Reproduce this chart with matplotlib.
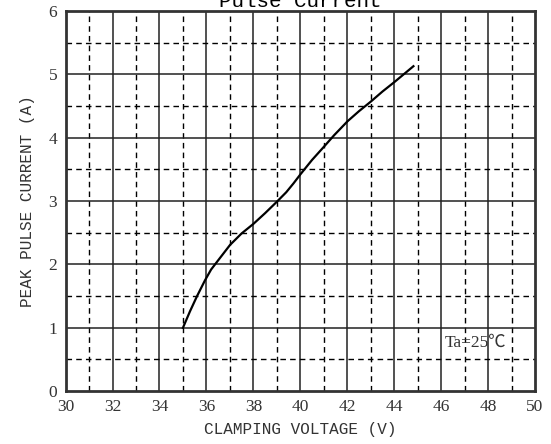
import numpy as np
import matplotlib.pyplot as plt

# Curve
voltage = [35.0, 35.3, 35.6, 35.94, 36.2, 36.51, 37.01, 37.5, 38.0, 38.5, 39.0, 39.4, 39.71, 40.02, 40.5, 41.01,
           41.44, 42.01, 42.5, 43.0, 43.5, 44.01, 44.82]
current = [1.0, 1.26, 1.5, 1.75, 1.92, 2.07, 2.31, 2.49, 2.64, 2.81, 2.99, 3.14, 3.28, 3.43, 3.65, 3.86,
           4.04, 4.26, 4.42, 4.57, 4.73, 4.88, 5.13]

x_ticks = list(range(30, 51, 2))
y_ticks = list(range(0, 7))

fig = plt.figure(figsize=(5.51, 4.44), dpi=100)
ax = fig.add_axes([0.119, 0.119, 0.852, 0.856])

# grid: solid majors, dashed minors
for x in range(31, 50, 2):
    ax.axvline(x, color='black', lw=1.0, ls=(0, (4, 3)), zorder=1)
for x in x_ticks[1:-1]:
    ax.axvline(x, color='#222222', lw=1.1, zorder=1)
for y in np.arange(0.5, 6, 1.0):
    ax.axhline(y, color='black', lw=1.0, ls=(0, (4, 3)), zorder=1)
for y in y_ticks[1:-1]:
    ax.axhline(y, color='#222222', lw=1.1, zorder=1)

ax.plot(voltage, current, color='black', lw=1.6, zorder=3)

ax.set_xlim(30, 50)
ax.set_ylim(0, 6)
ax.set_xticks(x_ticks)
ax.set_yticks(y_ticks)
ax.tick_params(length=0, pad=6)
for lab in ax.get_xticklabels() + ax.get_yticklabels():
    lab.set_fontfamily('Liberation Serif')
    lab.set_fontsize(12.5)
    lab.set_color('#333333')
for s in ax.spines.values():
    s.set_linewidth(2.0)
    s.set_color('#333333')

ax.set_xlabel('CLAMPING VOLTAGE (V)', family='Liberation Mono', fontsize=11.5, color='#333333', labelpad=5)
ax.set_ylabel('PEAK PULSE CURRENT (A)', family='Liberation Mono', fontsize=11.5, color='#333333', labelpad=10)
ax.set_title('Pulse Current', family='Liberation Mono', fontsize=15, pad=2)

ax.text(46.15, 0.77, 'Ta=25℃', family=['Liberation Serif', 'Noto Sans CJK SC'], fontsize=12.5,
        color='#333333', va='center', ha='left')

fig.savefig('out.png', dpi=100)
